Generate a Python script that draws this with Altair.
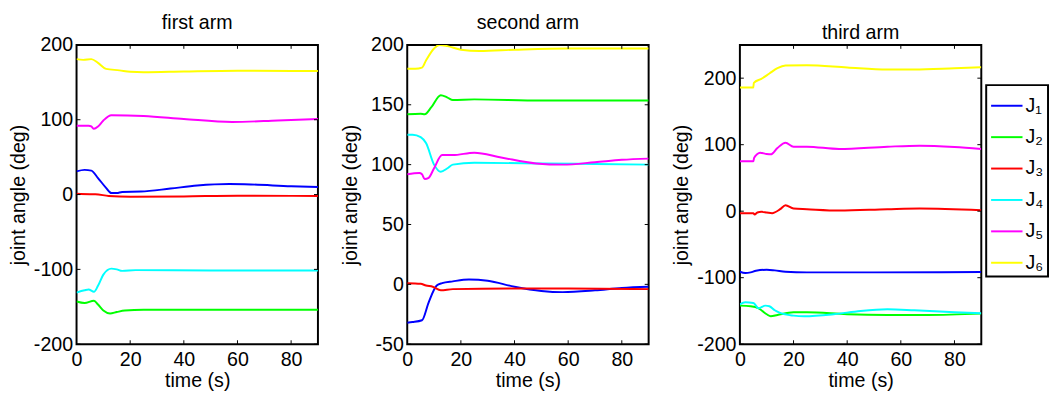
import altair as alt
import pandas as pd

FONT = "Liberation Sans"
JOINTS = ["J₁", "J₂", "J₃", "J₄", "J₅", "J₆"]
COLORS = ["#0000ff", "#00ff00", "#ff0000", "#00ffff", "#ff00ff", "#ffff00"]
X_TICKS = [0, 20, 40, 60, 80]

# ---- first arm ----
a1_t = {
    "J₁": [0, 3, 5.5, 8, 11, 13, 15, 17, 24, 35, 45, 57, 65, 80, 90],
    "J₂": [0, 3, 6.5, 8, 10, 12.5, 15, 18, 25, 50, 90],
    "J₃": [0, 5, 7, 12, 20, 40, 60, 90],
    "J₄": [0, 3, 4.5, 6.5, 8, 10, 13, 15, 17, 22, 50, 90],
    "J₅": [0, 4.5, 5.5, 6.5, 8, 10, 13, 25, 40, 58, 75, 90],
    "J₆": [0, 2.5, 5.5, 8, 11, 16, 20, 25, 40, 60, 90],
}
a1_v = {
    "J₁": [31, 33, 32, 22, 9, 2, 2, 3.5, 4, 8, 12, 14, 13.5, 11, 10],
    "J₂": [-143, -145, -142, -147, -155, -159, -157, -155, -154, -154, -154],
    "J₃": [1, 0.5, 0.5, -2, -3, -2.5, -1.5, -2],
    "J₄": [-131, -128, -127, -130, -122, -107, -99, -100, -102, -101, -101.5, -101.5],
    "J₅": [92, 92, 91, 88, 91, 99, 106, 105, 101, 97, 99, 101],
    "J₆": [181, 180, 181, 176, 168, 166, 164, 163.5, 164.5, 165.5, 165],
}

# ---- second arm ----
a2_t = {
    "J₁": [0, 2, 5.5, 8, 11, 13, 17, 23, 30, 40, 50, 58, 70, 80, 90],
    "J₂": [0, 5, 6.5, 9, 12.5, 15, 17, 25, 50, 90],
    "J₃": [0, 5, 7, 9.5, 12.5, 17, 40, 60, 90],
    "J₄": [0, 2, 5, 7, 10, 12.5, 15, 17, 25, 50, 70, 90],
    "J₅": [0, 4.5, 5.5, 6.5, 8, 10, 13, 17, 25, 35, 48, 58, 70, 80, 90],
    "J₆": [0, 3, 5.5, 7, 10, 12, 15, 20, 27, 40, 60, 90],
}
a2_v = {
    "J₁": [-32, -31.5, -30, -15, -1, 1, 2.5, 4, 3, -2, -5.5, -6.5, -5, -3, -2],
    "J₂": [142, 142.5, 142, 148, 158, 156, 154, 154.5, 153.5, 153.5],
    "J₃": [1, 0.5, -1, -2, -5, -4, -3.5, -3.5, -4],
    "J₄": [125, 125, 123, 118, 100, 94, 97, 100, 101.5, 101, 100.5, 100],
    "J₅": [92, 93, 92, 88, 89, 97, 108, 108, 110, 106, 101, 100, 102, 104, 105],
    "J₆": [180, 180, 181, 187, 197, 200, 199, 196, 195, 196, 197, 197],
}

# ---- third arm ----
a3_t = {
    "J₁": [0, 2, 4, 6, 10, 13, 17, 25, 50, 90],
    "J₂": [0, 4, 7, 10, 11.5, 14, 20, 25, 40, 55, 70, 90],
    "J₃": [0, 5, 5.5, 6.5, 8, 10, 12, 15, 17, 20, 25, 37, 55, 67, 90],
    "J₄": [0, 2, 5, 7, 9.5, 11, 13, 15, 20, 24, 35, 45, 55, 65, 80, 90],
    "J₅": [0, 5, 5.3, 6.5, 7.5, 10, 11.5, 14, 17, 20, 25, 37, 55, 67, 80, 90],
    "J₆": [0, 5, 5.2, 8, 11, 14, 17, 25, 40, 55, 65, 80, 90],
}
a3_v = {
    "J₁": [-91, -93, -92, -89.5, -88, -89, -91, -92, -92, -91.5],
    "J₂": [-142, -143, -146, -155, -158, -156, -152, -152, -155, -156, -156, -154],
    "J₃": [-3, -3, -5, -2, -1, -2, -3, 3, 9, 4, 3, 1, 3, 4, 1.5],
    "J₄": [-140, -137, -138, -146, -142, -143, -149, -153, -157, -158, -155, -150, -147.5, -149, -152, -153.5],
    "J₅": [75, 75, 80, 86, 88, 86, 85.5, 95, 103, 97, 97, 93.5, 97, 98.5, 96.5, 93.5],
    "J₆": [186, 186, 193, 199, 207, 215, 219, 219.5, 216, 213, 213, 215, 216.5],
}

PANELS = [
    ("first arm", a1_t, a1_v, [-200, 200], [-200, -100, 0, 100, 200], 5),
    ("second arm", a2_t, a2_v, [-50, 200], [-50, 0, 50, 100, 150, 200], 10),
    ("third arm", a3_t, a3_v, [-200, 250], [-200, -100, 0, 100, 200], 5),
]

W, H = 246, 305


def make_panel(title, ts, vs, ydom, yticks, ytpad):
    rows = []
    for j in JOINTS:
        for t, v in zip(ts[j], vs[j]):
            rows.append({"joint": j, "t": t, "v": v, "o": t})
    df = pd.DataFrame(rows)
    xs = alt.Scale(domain=[0, 90], nice=False, zero=False)
    ys = alt.Scale(domain=ydom, nice=False, zero=False)
    xax = alt.Axis(values=X_TICKS, ticks=False, domain=False, grid=False,
                   labelExpr="datum.value",
                   labelFont=FONT, labelFontSize=20, labelColor="black",
                   labelPadding=6, labelFlush=False, labelOverlap=False,
                   title="time (s)", titleFont=FONT, titleFontSize=20,
                   titleFontWeight="normal", titleColor="black", titlePadding=1)
    yax = alt.Axis(values=yticks, ticks=False, domain=False, grid=False,
                   labelExpr="datum.value",
                   labelFont=FONT, labelFontSize=20, labelColor="black",
                   labelPadding=4, labelOverlap=False,
                   title="joint angle (deg)", titleFont=FONT, titleFontSize=20,
                   titleFontWeight="normal", titleColor="black", titlePadding=ytpad)
    lines = alt.Chart(df).mark_line(strokeWidth=2, interpolate="monotone", clip=True).encode(
        x=alt.X("t:Q", scale=xs, axis=xax),
        y=alt.Y("v:Q", scale=ys, axis=yax),
        color=alt.Color("joint:N", scale=alt.Scale(domain=JOINTS, range=COLORS),
                        legend=alt.Legend(title=None, orient="none", legendX=927, legendY=41,
                                          symbolType="stroke", symbolSize=1024,
                                          symbolStrokeWidth=2, labelFont=FONT,
                                          labelFontSize=20, labelColor="black",
                                          labelOffset=2, rowPadding=5, padding=4,
                                          strokeColor="black", fillColor="white")),
        order="o:Q",
    )
    xt = pd.DataFrame({"t": X_TICKS[1:]})
    yt = pd.DataFrame({"v": yticks})
    tick_style = dict(color="black", strokeWidth=1)
    bottom = alt.Chart(xt).mark_rule(**tick_style).encode(
        x=alt.X("t:Q", scale=xs), y=alt.value(H), y2=alt.value(H - 4))
    top = alt.Chart(xt).mark_rule(**tick_style).encode(
        x=alt.X("t:Q", scale=xs), y=alt.value(0), y2=alt.value(4))
    left = alt.Chart(yt).mark_rule(**tick_style).encode(
        y=alt.Y("v:Q", scale=ys), x=alt.value(0), x2=alt.value(4))
    right = alt.Chart(yt).mark_rule(**tick_style).encode(
        y=alt.Y("v:Q", scale=ys), x=alt.value(W), x2=alt.value(W - 4))
    return alt.layer(lines, bottom, top, left, right).properties(
        width=W, height=H,
        title=alt.TitleParams(title, font=FONT, fontSize=20, fontWeight="normal",
                              color="black", anchor="middle", offset=2),
    )


chart = alt.hconcat(*[make_panel(*p) for p in PANELS], spacing=20).properties(
    padding={"left": 7, "top": 9, "right": 0, "bottom": 0},
    background="white",
).configure_view(stroke="black", strokeWidth=2).configure_legend(strokeWidth=2)

chart.save("out.html", embed_options={"renderer": "svg", "actions": False})
